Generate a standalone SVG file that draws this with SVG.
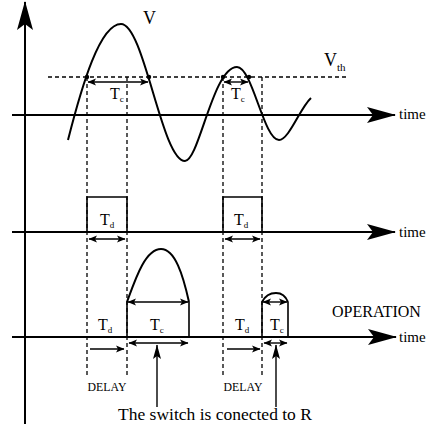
<svg xmlns="http://www.w3.org/2000/svg" width="432" height="428" viewBox="0 0 432 428">
<style>
.ax{stroke:#000;stroke-width:2;fill:none}
.w{stroke:#000;stroke-width:2;fill:none}
.dsh{stroke:#000;stroke-width:1.3;stroke-dasharray:4 3;fill:none}
.ln{stroke:#000;stroke-width:1.6;fill:none}
.ar{stroke:#000;stroke-width:1.4;fill:none}
.t{font-size:16px}
.s{font-size:9px}
.tm{font-size:15px}
</style>
<defs>
<marker id="big" viewBox="-30 -10 32 20" refX="0" refY="0" markerWidth="32" markerHeight="20" markerUnits="userSpaceOnUse" orient="auto">
<path d="M1,0 L-28,-8 L-22,0 L-28,8 Z" fill="#000"/>
</marker>
<marker id="sm" viewBox="-10 -5 11 10" refX="0" refY="0" markerWidth="11" markerHeight="10" markerUnits="userSpaceOnUse" orient="auto-start-reverse">
<path d="M0.5,0 L-8,-3.5 L-6,0 L-8,3.5 Z" fill="#000"/>
</marker>
<marker id="up" viewBox="-16 -6 17 12" refX="0" refY="0" markerWidth="17" markerHeight="12" markerUnits="userSpaceOnUse" orient="auto">
<path d="M0.5,0 L-14,-4 L-11,0 L-14,4 Z" fill="#000"/>
</marker>
</defs>

<g id="axes">
<line class="ax" x1="25" y1="424" x2="25" y2="2" marker-end="url(#big)"/>
<line class="ax" x1="12" y1="115" x2="395" y2="115" marker-end="url(#big)"/>
<line class="ax" x1="12" y1="232" x2="395" y2="232" marker-end="url(#big)"/>
<line class="ax" x1="12" y1="337" x2="396" y2="337" marker-end="url(#big)"/>
</g>

<g id="threshold">
<line class="dsh" x1="48" y1="77" x2="347" y2="77"/>
</g>

<g id="wave">
<path class="w" d="M68,140 C82,85 100,24 121,24 C144.3,24 161.7,161 185,161 C199,161 213,67 237,67 C252.3,67 263.7,140 279,140 C289,140 300,108 311,98"/>
<circle cx="87" cy="77" r="2.2"/>
<circle cx="149" cy="77" r="2.2"/>
<circle cx="223" cy="77" r="2.2"/>
<circle cx="249" cy="77" r="2.2"/>
</g>

<g id="guides">
<line class="dsh" x1="87" y1="77" x2="87" y2="377"/>
<line class="dsh" x1="127" y1="77" x2="127" y2="377"/>
<line class="dsh" x1="223" y1="77" x2="223" y2="377"/>
<line class="dsh" x1="262" y1="77" x2="262" y2="377"/>
</g>

<g id="pulse1">
<path class="ln" d="M87,232 V197 H127 V232"/>
</g>
<g id="pulse2">
<path class="ln" d="M223,232 V197 H262 V232"/>
</g>

<g id="operation1">
<path class="ln" d="M127,337 V302 M189,302 V337"/>
<path class="w" d="M127,302 C135,280 145,249 161,249 C175,249 183,275 189,302"/>
</g>
<g id="operation2">
<path class="ln" d="M262,337 V302 M288,302 V337"/>
<path class="w" d="M262,302 C265,296 270,293 276,293 C282,293 286,297 288,302"/>
</g>

<g id="connectors">
<line class="ar" x1="88" y1="82" x2="148" y2="82" marker-start="url(#sm)" marker-end="url(#sm)"/>
<line class="ar" x1="224" y1="82" x2="248" y2="82" marker-start="url(#sm)" marker-end="url(#sm)"/>
<line class="ar" x1="89" y1="239" x2="125" y2="239" marker-start="url(#sm)" marker-end="url(#sm)"/>
<line class="ar" x1="225" y1="239" x2="260" y2="239" marker-start="url(#sm)" marker-end="url(#sm)"/>
<line class="ar" x1="128" y1="302" x2="188" y2="302" marker-start="url(#sm)" marker-end="url(#sm)"/>
<line class="ar" x1="263" y1="302" x2="287" y2="302" marker-start="url(#sm)" marker-end="url(#sm)"/>
<line class="ar" x1="129" y1="343" x2="188" y2="343" marker-start="url(#sm)" marker-end="url(#sm)"/>
<line class="ar" x1="264" y1="343" x2="287" y2="343" marker-start="url(#sm)" marker-end="url(#sm)"/>
<line class="ar" x1="90" y1="349" x2="124" y2="349" marker-end="url(#sm)"/>
<line class="ar" x1="227" y1="349" x2="260" y2="349" marker-end="url(#sm)"/>
<line class="ar" x1="157" y1="407" x2="157" y2="345" marker-end="url(#up)"/>
<line class="ar" x1="276" y1="407" x2="276" y2="345" marker-end="url(#up)"/>
</g>

<g id="labels" font-family="'Liberation Serif', 'Times New Roman', serif" fill="#000">
<text x="143" y="24" font-size="18">V</text>
<text x="324" y="66" font-size="18">V<tspan font-size="11" dy="5">th</tspan></text>
<text class="t" x="110" y="99">T<tspan class="s" dy="3">c</tspan></text>
<text class="t" x="231" y="99">T<tspan class="s" dy="3">c</tspan></text>
<text class="t" x="100" y="225">T<tspan class="s" dy="3">d</tspan></text>
<text class="t" x="234" y="225">T<tspan class="s" dy="3">d</tspan></text>
<text class="t" x="98" y="330">T<tspan class="s" dy="3">d</tspan></text>
<text class="t" x="235" y="330">T<tspan class="s" dy="3">d</tspan></text>
<text class="t" x="150" y="330">T<tspan class="s" dy="3">c</tspan></text>
<text class="t" x="270" y="330">T<tspan class="s" dy="3">c</tspan></text>
<text font-size="16" x="332" y="317">OPERATION</text>
<text class="tm" x="399" y="119">time</text>
<text class="tm" x="399" y="237">time</text>
<text class="tm" x="399" y="342">time</text>
<text font-size="11.8" x="107" y="391" text-anchor="middle">DELAY</text>
<text font-size="11.8" x="243" y="391" text-anchor="middle">DELAY</text>
<text font-size="17.5" x="118" y="420">The switch is conected to R</text>
</g>
</svg>
